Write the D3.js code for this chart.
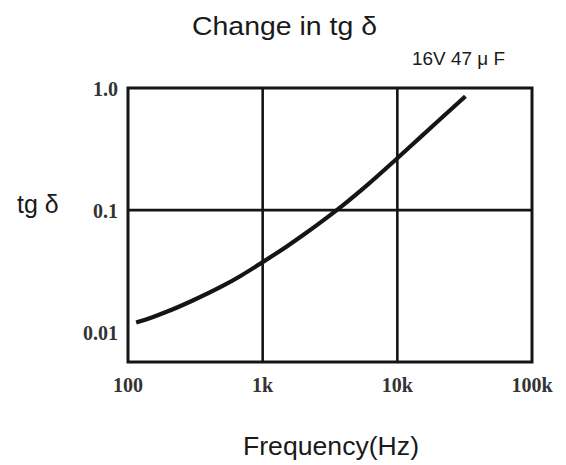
<!DOCTYPE html>
<html><head><meta charset="utf-8">
<script src="https://cdn.jsdelivr.net/npm/d3@7"></script>
<style>body{margin:0;background:#fff}svg{display:block}</style>
</head><body><div id="chart"></div>
<script>
const freqs = [115, 150, 200, 300, 500, 700, 1000, 1500, 2000, 3000, 4000, 6000, 10000, 15000, 20000, 32000];
const tgValues = [0.0120, 0.0132, 0.0149, 0.0181, 0.0238, 0.0293, 0.0375, 0.0502, 0.0625, 0.0868, 0.111, 0.161, 0.266, 0.40, 0.534, 0.855];
const xTicks = [100, 1000, 10000, 100000];
const xTickLabels = ["100", "1k", "10k", "100k"];
const yTicks = [0.01, 0.1, 1.0];
const yTickLabels = ["0.01", "0.1", "1.0"];

const W = 566, H = 465;
const svg = d3.select("#chart").append("svg").attr("width", W).attr("height", H);

const x = d3.scaleLog().domain([100, 100000]).range([128, 532]);
const y = d3.scaleLog().domain([0.0057, 1.0]).range([362, 88]);

const ink = "#151515";

// grid lines (interior)
svg.append("g").selectAll("line").data(xTicks.slice(1, -1)).join("line")
  .attr("x1", d => x(d)).attr("x2", d => x(d)).attr("y1", y(1.0)).attr("y2", 362)
  .attr("stroke", ink).attr("stroke-width", 2.6);
svg.append("g").selectAll("line").data([0.1]).join("line")
  .attr("x1", 128).attr("x2", 532).attr("y1", d => y(d)).attr("y2", d => y(d))
  .attr("stroke", ink).attr("stroke-width", 2.6);

// frame
svg.append("rect").attr("x", 128).attr("y", 88).attr("width", 404).attr("height", 274)
  .attr("fill", "none").attr("stroke", ink).attr("stroke-width", 3);

// curve
const line = d3.line().x((d, i) => x(freqs[i])).y(d => y(d)).curve(d3.curveMonotoneX);
svg.append("path").datum(tgValues).attr("d", line)
  .attr("fill", "none").attr("stroke", ink).attr("stroke-width", 4.2).attr("stroke-linecap", "butt");

// axes labels
const tickFont = "'Liberation Serif', 'DejaVu Serif', serif";
svg.append("g").selectAll("text").data(xTicks).join("text")
  .attr("x", d => x(d)).attr("y", 392)
  .attr("text-anchor", "middle").attr("font-family", tickFont).attr("font-weight", "bold")
  .attr("font-size", 20).attr("fill", "#333")
  .text((d, i) => xTickLabels[i]);
svg.append("g").selectAll("text").data(yTicks).join("text")
  .attr("x", 118).attr("y", d => y(d) + 8)
  .attr("text-anchor", "end").attr("font-family", tickFont).attr("font-weight", "bold")
  .attr("font-size", 20).attr("fill", "#333")
  .text((d, i) => yTickLabels[i]);

const sans = "'Liberation Sans', Arial, sans-serif";
svg.append("text").attr("x", 192).attr("y", 35).attr("font-family", sans).attr("font-size", 25)
  .attr("fill", "#1a1a1a").attr("textLength", 185).attr("lengthAdjust", "spacingAndGlyphs")
  .text("Change in tg δ");
svg.append("text").attr("x", 412).attr("y", 65).attr("font-family", sans).attr("font-size", 18)
  .attr("fill", "#1a1a1a").attr("textLength", 93).attr("lengthAdjust", "spacingAndGlyphs")
  .text("16V 47 μ F");
svg.append("text").attr("x", 17).attr("y", 213).attr("font-family", sans).attr("font-size", 25)
  .attr("fill", "#1a1a1a").text("tg δ");
svg.append("text").attr("x", 243).attr("y", 455).attr("font-family", sans).attr("font-size", 25)
  .attr("fill", "#1a1a1a").attr("textLength", 176).attr("lengthAdjust", "spacingAndGlyphs")
  .text("Frequency(Hz)");
</script></body></html>
